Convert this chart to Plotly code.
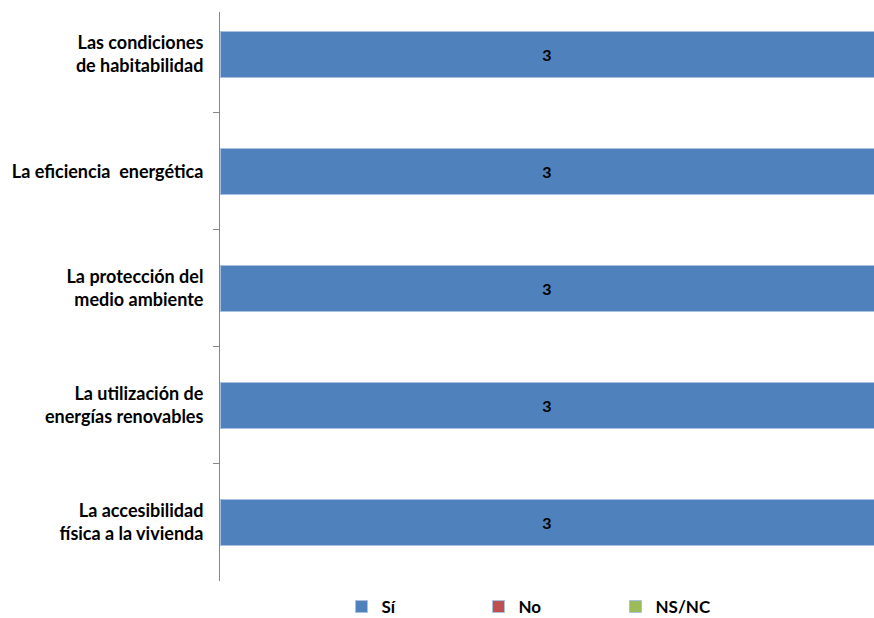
import plotly.graph_objects as go

categories = [
    "Las condiciones<br>de habitabilidad",
    "La eficiencia  energética",
    "La protección del<br>medio ambiente",
    "La utilización de<br>energías renovables",
    "La accesibilidad<br>física a la vivienda",
]
si_values = [3, 3, 3, 3, 3]
no_values = [0, 0, 0, 0, 0]
nsnc_values = [0, 0, 0, 0, 0]
series_names = ["Sí", "No", "NS/NC"]
colors = ["#4F81BD", "#C0504D", "#9BBB59"]

font_family = "Lato, Carlito, Calibri, sans-serif"

fig = go.Figure()
for name, vals, col in zip(series_names, [si_values, no_values, nsnc_values], colors):
    fig.add_trace(go.Bar(
        y=categories, x=vals, name=name, orientation="h",
        marker=dict(color=col, line=dict(color="#A9C1DF", width=1)),
        text=[str(v) if v else "" for v in vals],
        textposition="inside", insidetextanchor="middle",
        textfont=dict(family=font_family, size=16, color="black", weight="bold"),
        hoverinfo="skip",
    ))

fig.update_layout(
    barmode="stack",
    bargap=0.6,
    width=874, height=618,
    margin=dict(l=220, r=0, t=12, b=37),
    plot_bgcolor="white", paper_bgcolor="white",
    font=dict(family=font_family, size=18, color="black"),
    showlegend=True,
    legend=dict(orientation="h", x=0.5, xanchor="center",
                yref="container", y=(618 - 607) / 618, yanchor="middle",
                entrywidth=92, font=dict(size=17, weight="bold"),
                itemwidth=30, traceorder="normal"),
    uniformtext=dict(mode="show", minsize=10),
)
fig.update_xaxes(range=[0, 3], visible=False, showgrid=False, zeroline=False)
fig.update_yaxes(
    categoryorder="array", categoryarray=categories,
    range=[4.5, -0.363],
    showline=True, linecolor="#868686", linewidth=1,
    ticks="outside", ticklen=6, tickcolor="#868686", tickson="boundaries",
    tickfont=dict(family=font_family, size=18, color="black", weight="bold"),
    showgrid=False, zeroline=False, ticklabelstandoff=12,
)
fig.write_html(
    "out.html",
    config={"displayModeBar": False},
    post_script="document.body.style.margin='0';document.body.style.overflow='hidden';",
)
